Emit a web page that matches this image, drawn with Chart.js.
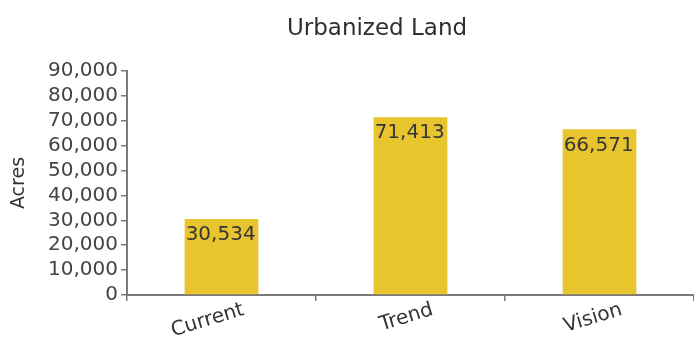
<!DOCTYPE html>
<html>
<head>
<meta charset="utf-8">
<style>
  html, body { margin: 0; padding: 0; background: #fff; }
  #wrap { width: 694px; height: 346px; }
</style>
<script src="https://cdn.jsdelivr.net/npm/chart.js@4/dist/chart.umd.min.js"></script>
</head>
<body>
<div id="wrap"><canvas id="mainChart" width="694" height="346"></canvas></div>
<script>
;(function (window, document, Chart) {
  // data
  var chartTitle = 'Urbanized Land'
  var categories = ['Current', 'Trend', 'Vision']
  var acres = [30534, 71413, 66571]
  var yTitle = 'Acres'
  var yMin = 0
  var yMax = 90000
  var yStep = 10000

  var barColor = '#E8C42E'
  var axisColor = '#7a7a7a'
  var textColor = '#444'
  var fontFamily = '"DejaVu Sans", sans-serif'

  function fmt (v) {
    return Number(v).toLocaleString('en-US')
  }

  // title sits a bit left of the plot centre in the original
  var titlePlugin = {
    id: 'offsetTitle',
    afterDraw: function (chart) {
      var ctx = chart.ctx
      ctx.save()
      ctx.font = '23px ' + fontFamily
      ctx.fillStyle = '#2e2e2e'
      ctx.textAlign = 'center'
      ctx.textBaseline = 'middle'
      ctx.fillText(chartTitle, 377, 29)
      ctx.restore()
    }
  }

  // value written inside the top of every bar, left aligned
  var valuePlugin = {
    id: 'barValues',
    afterDatasetsDraw: function (chart) {
      var ctx = chart.ctx
      var meta = chart.getDatasetMeta(0)
      ctx.save()
      ctx.font = '20px ' + fontFamily
      ctx.fillStyle = '#363636'
      ctx.textAlign = 'left'
      ctx.textBaseline = 'top'
      meta.data.forEach(function (bar, i) {
        var left = bar.x - bar.width / 2
        ctx.fillText(fmt(chart.data.datasets[0].data[i]), left + 1, bar.y + 6)
      })
      ctx.restore()
    }
  }

  var ctx = document.getElementById('mainChart').getContext('2d')

  new Chart(ctx, {
    type: 'bar',
    data: {
      labels: categories,
      datasets: [{
        data: acres,
        backgroundColor: barColor,
        borderWidth: 0,
        barPercentage: 0.39,
        categoryPercentage: 1
      }]
    },
    options: {
      responsive: false,
      animation: false,
      layout: { padding: { top: 71, left: 4, right: 0, bottom: 0 } },
      plugins: {
        legend: { display: false },
        title: { display: false },
        tooltip: { enabled: false }
      },
      scales: {
        x: {
          offset: true,
          grid: {
            display: true,
            offset: true,
            drawOnChartArea: false,
            drawTicks: true,
            tickLength: 6,
            color: axisColor,
            lineWidth: 1.5
          },
          border: { display: true, color: axisColor, width: 2 },
          ticks: {
            minRotation: 17,
            maxRotation: 17,
            labelOffset: 22,
            padding: -3,
            color: '#333',
            font: { family: fontFamily, size: 20 }
          },
          afterFit: function (scale) { scale.height = 51 }
        },
        y: {
          min: yMin,
          max: yMax,
          grid: {
            display: true,
            drawOnChartArea: false,
            drawTicks: true,
            tickLength: 6,
            color: axisColor,
            lineWidth: 1.5
          },
          border: { display: true, color: axisColor, width: 2 },
          ticks: {
            stepSize: yStep,
            autoSkip: false,
            padding: 3,
            color: textColor,
            font: { family: fontFamily, size: 20 },
            callback: function (v) { return fmt(v) }
          },
          title: {
            display: true,
            text: yTitle,
            color: '#333',
            padding: { top: 4, bottom: 0 },
            font: { family: fontFamily, size: 19 }
          },
          afterFit: function (scale) { scale.width = 123 }
        }
      }
    },
    plugins: [titlePlugin, valuePlugin]
  })
})(window, document, Chart);
</script>
</body>
</html>
